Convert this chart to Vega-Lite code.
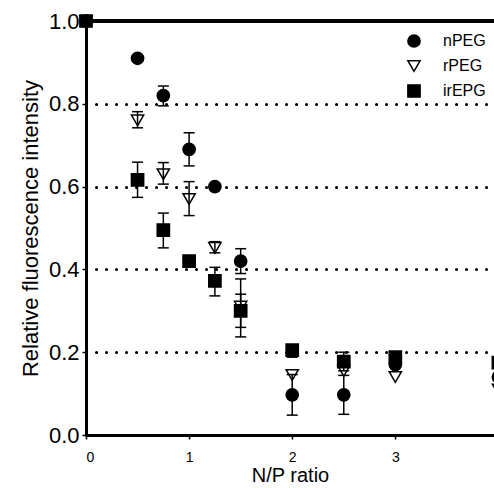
{
  "$schema": "https://vega.github.io/schema/vega-lite/v6.json",
  "autosize": "none",
  "padding": {"left": 86, "top": 21, "right": 0, "bottom": 53},
  "width": 408,
  "height": 414,
  "background": "white",
  "config": {
    "view": {"stroke": null},
    "font": "Liberation Sans",
    "axis": {
      "domainColor": "black", "domainWidth": 3, "tickColor": "black", "tickWidth": 1.5, "tickSize": 4,
      "labelColor": "black", "titleColor": "black", "titleFontWeight": "normal"
    }
  },
  "data": {
    "values": [
      {"series": "nPEG", "x": 0, "y": 1.0},
      {"series": "nPEG", "x": 0.5, "y": 0.91},
      {"series": "nPEG", "x": 0.75, "y": 0.82, "lo": 0.795, "hi": 0.843},
      {"series": "nPEG", "x": 1.0, "y": 0.69, "lo": 0.65, "hi": 0.73},
      {"series": "nPEG", "x": 1.25, "y": 0.6},
      {"series": "nPEG", "x": 1.5, "y": 0.42, "lo": 0.39, "hi": 0.45},
      {"series": "nPEG", "x": 2.0, "y": 0.097, "lo": 0.048, "hi": 0.146},
      {"series": "nPEG", "x": 2.5, "y": 0.097, "lo": 0.05, "hi": 0.144},
      {"series": "nPEG", "x": 3.0, "y": 0.17},
      {"series": "nPEG", "x": 4.0, "y": 0.14},
      {"series": "rPEG", "x": 0, "y": 1.0},
      {"series": "rPEG", "x": 0.5, "y": 0.76, "lo": 0.742, "hi": 0.781},
      {"series": "rPEG", "x": 0.75, "y": 0.63, "lo": 0.606, "hi": 0.658},
      {"series": "rPEG", "x": 1.0, "y": 0.57, "lo": 0.53, "hi": 0.612},
      {"series": "rPEG", "x": 1.25, "y": 0.452, "lo": 0.44, "hi": 0.467},
      {"series": "rPEG", "x": 1.5, "y": 0.31, "lo": 0.237, "hi": 0.377},
      {"series": "rPEG", "x": 2.0, "y": 0.145},
      {"series": "rPEG", "x": 2.5, "y": 0.155},
      {"series": "rPEG", "x": 3.0, "y": 0.14},
      {"series": "rPEG", "x": 4.0, "y": 0.11},
      {"series": "irEPG", "x": 0, "y": 1.0},
      {"series": "irEPG", "x": 0.5, "y": 0.616, "lo": 0.574, "hi": 0.659},
      {"series": "irEPG", "x": 0.75, "y": 0.495, "lo": 0.452, "hi": 0.536},
      {"series": "irEPG", "x": 1.0, "y": 0.42},
      {"series": "irEPG", "x": 1.25, "y": 0.372, "lo": 0.336, "hi": 0.405},
      {"series": "irEPG", "x": 1.5, "y": 0.3, "lo": 0.26, "hi": 0.34},
      {"series": "irEPG", "x": 2.0, "y": 0.205, "lo": 0.188, "hi": 0.215},
      {"series": "irEPG", "x": 2.5, "y": 0.177, "lo": 0.155, "hi": 0.2},
      {"series": "irEPG", "x": 3.0, "y": 0.188},
      {"series": "irEPG", "x": 4.0, "y": 0.175}
    ]
  },
  "encoding": {
    "x": {
      "field": "x", "type": "quantitative",
      "scale": {"domain": [0, 3.957], "nice": false, "zero": false},
      "axis": {
        "values": [0, 1, 2, 3], "format": "d", "grid": false,
        "labelFontSize": 14, "labelPadding": 11,
        "title": "N/P ratio", "titleFontSize": 20, "titlePadding": 1
      }
    },
    "y": {
      "field": "y", "type": "quantitative",
      "scale": {"domain": [0, 1], "nice": false},
      "axis": {
        "values": [0, 0.2, 0.4, 0.6, 0.8, 1.0], "format": ".1f",
        "labelFontSize": 22, "labelPadding": 3,
        "grid": true, "gridColor": "black", "gridWidth": 3, "gridDash": [0.1, 9.9], "gridCap": "round",
        "title": "Relative fluorescence intensity", "titleFontSize": 22, "titlePadding": 6
      }
    }
  },
  "layer": [
    {
      "mark": {"type": "rule", "color": "black", "strokeWidth": 2.5},
      "encoding": {"y": {"datum": 1}, "x": null}
    },
    {
      "mark": {"type": "point", "filled": false, "opacity": 1, "stroke": "black", "strokeWidth": 1.5, "size": 150, "clip": false},
      "encoding": {
        "shape": {
          "field": "series", "type": "nominal",
          "scale": {"domain": ["nPEG", "rPEG", "irEPG"], "range": ["circle", "triangle-down", "square"]},
          "legend": {
            "title": null, "orient": "none", "legendX": 320, "legendY": 12,
            "labelFontSize": 16, "symbolSize": 150, "labelOffset": 21, "rowPadding": 6,
            "encode": {"symbols": {"update": {"stroke": {"value": "black"}, "strokeWidth": {"value": 1.5}, "opacity": {"value": 1}}}}
          }
        },
        "fill": {
          "field": "series", "type": "nominal",
          "scale": {"domain": ["nPEG", "rPEG", "irEPG"], "range": ["black", "white", "black"]},
          "legend": {
            "title": null, "orient": "none", "legendX": 320, "legendY": 12,
            "labelFontSize": 16, "symbolSize": 150, "labelOffset": 21, "rowPadding": 6,
            "encode": {"symbols": {"update": {"stroke": {"value": "black"}, "strokeWidth": {"value": 1.5}, "opacity": {"value": 1}}}}
          }
        }
      }
    },
    {
      "transform": [{"filter": "datum.lo != null"}],
      "mark": {"type": "rule", "color": "black", "strokeWidth": 1.5},
      "encoding": {"y": {"field": "lo", "type": "quantitative"}, "y2": {"field": "hi"}}
    },
    {
      "transform": [{"filter": "datum.lo != null"}],
      "mark": {"type": "tick", "orient": "horizontal", "color": "black", "size": 11, "thickness": 1.5, "opacity": 1},
      "encoding": {"y": {"field": "lo", "type": "quantitative"}}
    },
    {
      "transform": [{"filter": "datum.lo != null"}],
      "mark": {"type": "tick", "orient": "horizontal", "color": "black", "size": 11, "thickness": 1.5, "opacity": 1},
      "encoding": {"y": {"field": "hi", "type": "quantitative"}}
    }
  ]
}
